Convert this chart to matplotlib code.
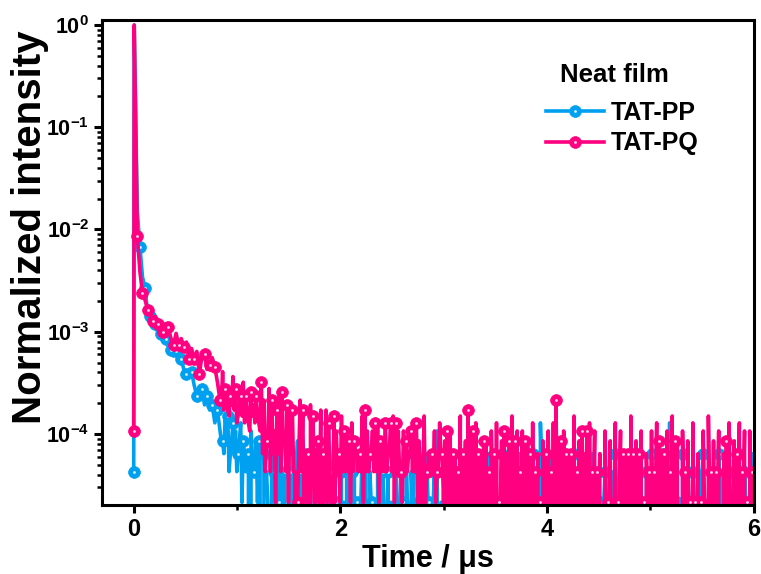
import matplotlib
matplotlib.use('Agg')
import matplotlib.pyplot as plt
import numpy as np
from matplotlib.ticker import LogLocator, MultipleLocator, NullFormatter, FuncFormatter

# photon counts (normalised by the peak count)
peak_counts = 46700
time_head = [0.0, 0.005]
pp_head = [2, 46700]
pq_head = [5, 46700]

# after the peak the channels are 0.025 us apart, starting at 0.035 us
t_start = 0.035
t_step = 0.025
# from channel 32 on (t > 0.8 us) there is one extra channel in between each pair
j_split = 32

pq_tail = [
    406, 180, 112, 95, 77, 70, 59, 66, 55, 50,
    46, 56, 52, 40, 35, 45, 35, 40, 33, 37,
    25, 32, 25, 30, 18, 27, 28, 20, 22, 26,
    21, 15, 10, 19, 13, 8, 11, 17, 13, 7,
    11, 15, 11, 6, 12, 9, 11, 6, 15, 10,
    4, 13, 10, 5, 8, 12, 12, 4, 9, 8,
    8, 2, 1, 10, 8, 3, 3, 9, 7, 1,
    4, 8, 3, 8, 6, 1, 7, 5, 3, 7,
    5, 4, 4, 6, 4, 3, 3, 7, 8, 5,
    3, 5, 6, 6, 4, 4, 6, 3, 6, 7,
    6, 5, 2, 5, 4, 3, 5, 6, 6, 4,
    0, 7, 2, 3, 3, 5, 2, 6, 3, 4,
    5, 5, 3, 3, 2, 7, 3, 4, 8, 5,
    5, 6, 3, 3, 4, 4, 2, 5, 3, 6,
    1, 4, 5, 3, 4, 7, 4, 5, 2, 5,
    4, 4, 3, 6, 2, 3, 1, 4, 3, 5,
    2, 6, 10, 4, 4, 5, 3, 3, 3, 7,
    2, 4, 5, 3, 5, 6, 2, 5, 2, 3,
    0, 5, 1, 4, 0, 6, 1, 5, 3, 3,
    3, 7, 3, 4, 3, 5, 1, 3, 2, 5,
    2, 6, 4, 3, 3, 5, 2, 7, 4, 4,
    0, 5, 2, 4, 1, 6, 1, 3, 1, 5,
    0, 7, 2, 4, 2, 5, 0, 3, 4, 6,
    0, 4, 3, 6, 2, 5, 1, 5, 2,
]
pq_between = [
    9, 8, 10, 7, 9, 8, 6, 9, 7, 6, 8, 5, 7, 6, 7, 5,
    3, 2, 4, 2, 3, 1, 3, 2, 4, 2, 1, 3, 2, 0, 3, 2,
    1, 2, 0, 2, 1, 3, 1, 0, 2, 1, 2, 0, 1, 2, 1, 2,
    2, 2, 1, 2, 3, 2, 2, 1, 2, 2,
    3, 2, 2, 1, 2, 2, 2, 3, 2, 1,
    2, 2, 1, 2, 2, 3, 2, 2, 1, 2,
    2, 1, 2, 2, 2, 1, 2, 3, 1, 1,
    0, 1, 0, 0, 1, 0, 1, 0, 0, 1,
    0, 0, 1, 0, 1, 0, 0, 1, 0, 0,
    1, 0, 0, 1, 0, 1, 0, 0, 1, 0,
    0, 1, 0, 0, 1, 0, 0, 1, 0, 1,
    0, 0, 1, 0, 0, 1, 0, 1, 0, 0,
    1, 0, 0, 1, 0, 0, 1, 0, 1, 0,
    0, 1, 0, 0, 1, 0, 1, 0, 0, 1,
    0, 0, 1, 0, 1, 0, 0, 1, 0, 0,
    1, 0, 1, 0, 0, 1, 0, 0, 1, 0,
    0, 1, 0, 1, 0, 0, 1, 0, 0, 1,
    0, 1, 0, 0, 1, 0, 0, 1, 0, 1,
    0, 0, 1, 0, 1, 0, 0, 1,
]

pp_tail = [
    700, 317, 160, 125, 72, 66, 52, 55, 45, 44,
    38, 40, 33, 31, 27, 30, 24, 25, 20, 18,
    17, 19, 14, 11, 12, 13, 9, 11, 8, 9,
    6, 8, 5, 4, 7, 7, 3, 6, 5, 3,
    6, 4, 2, 3, 5, 2, 4, 4, 0, 3,
    2, 0, 4, 2, 3, 1, 0, 2, 0, 2,
    3, 1, 4, 2, 0, 3, 1, 2, 0, 3,
    2, 1, 3, 0, 2, 2, 4, 1, 0, 2,
    1, 3, 0, 2, 4, 1, 0, 3, 2, 0,
    2, 1, 0, 3, 1, 2, 0, 2, 1, 0,
    3, 0, 2, 1, 4, 0, 2, 3, 0, 1,
    2, 0, 3, 1, 0, 2, 5, 0, 1, 2,
    0, 3, 1, 2, 0, 2, 1, 0, 2, 3,
    1, 0, 2, 2, 0, 1, 3, 0, 2, 1,
    0, 3, 2, 0, 1, 1, 2, 0, 3, 1,
    2, 0, 1, 3, 0, 2, 6, 1, 0, 2,
    3, 0, 1, 2, 0, 2, 1, 2, 0, 3,
    1, 0, 2, 1, 0, 1, 3, 0, 2, 1,
    0, 2, 1, 0, 2, 3, 1, 0, 2, 1,
    3, 0, 2, 1, 0, 1, 1, 2, 0, 3,
    1, 0, 2, 3, 0, 1, 6, 0, 2, 1,
    0, 3, 1, 2, 0, 2, 1, 0, 2, 3,
    1, 0, 2, 1, 0, 3, 2, 0, 1, 2,
    0, 2, 1, 3, 0, 2, 1, 0, 3,
]
pp_between = [
    4, 3, 5, 2, 4, 3, 2, 4, 1, 3, 2, 0, 3, 2, 1, 3,
    0, 2, 1, 0, 2, 1, 0, 3, 1, 0, 2, 0, 1, 2, 0, 1,
    0, 1, 2, 0, 1, 0, 2, 1, 0, 1, 0, 2, 1, 0, 1, 0,
    0, 1, 0, 1, 0, 0, 1, 0, 2, 0,
    1, 0, 0, 1, 0, 1, 0, 0, 1, 0,
    0, 1, 0, 0, 1, 0, 1, 0, 0, 1,
    0, 0, 1, 0, 1, 0, 0, 1, 0, 0,
    1, 0, 0, 1, 0, 2, 0, 1, 0, 0,
    1, 0, 1, 0, 0, 2, 0, 1, 0, 1,
    0, 0, 1, 0, 2, 0, 0, 1, 0, 1,
    0, 1, 0, 0, 1, 0, 2, 0, 1, 0,
    0, 1, 0, 1, 0, 0, 2, 0, 1, 0,
    1, 0, 0, 1, 0, 1, 0, 2, 0, 0,
    1, 0, 1, 0, 0, 1, 0, 2, 0, 1,
    0, 0, 1, 0, 1, 0, 0, 2, 0, 1,
    0, 1, 0, 0, 1, 0, 1, 0, 2, 0,
    0, 1, 0, 1, 0, 0, 1, 0, 2, 0,
    1, 0, 0, 1, 0, 1, 0, 0, 2, 0,
    1, 0, 1, 0, 0, 1, 0, 2,
]

series_names = ['TAT-PP', 'TAT-PQ']
legend_title = 'Neat film'
colors = ['#00A0F0', '#FF0080']

plt.rcParams['font.family'] = ['Liberation Sans', 'DejaVu Sans']
plt.rcParams['font.weight'] = 'bold'
plt.rcParams['mathtext.fontset'] = 'custom'
plt.rcParams['mathtext.bf'] = 'Liberation Sans:bold'
plt.rcParams['mathtext.rm'] = 'Liberation Sans:bold'


def build(head, tail, between):
    assert len(between) == len(tail) - 1 - j_split
    ts = list(time_head)
    vs = list(head)
    pos = []
    for j, v in enumerate(tail):
        tj = t_start + t_step * j
        pos.append(len(ts))
        ts.append(tj)
        vs.append(v)
        if j_split <= j < len(tail) - 1:
            ts.append(tj + t_step / 2)
            vs.append(between[j - j_split])
    return np.array(ts), np.array(vs) / peak_counts, pos


t_pp, pp, pos_pp = build(pp_head, pp_tail, pp_between)
t_pq, pq, pos_pq = build(pq_head, pq_tail, pq_between)

# markers on every other coarse channel, offset by one between the traces
pp_marks = [0] + pos_pp[1::2]
pq_marks = [0] + pos_pq[0::2]

fig = plt.figure(figsize=(7.61, 5.74), dpi=100)
ax = fig.add_axes([0.1336, 0.1202, 0.857, 0.845])
ax.set_yscale('log', nonpositive='clip')

handles = []
for t, y, marks, c, name in [(t_pp, pp, pp_marks, colors[0], series_names[0]),
                             (t_pq, pq, pq_marks, colors[1], series_names[1])]:
    line, = ax.plot(t, y, '-', color=c, lw=2.6, marker='o', ms=8.5,
                    markevery=marks, mfc=c, mec=c, mew=0.5, label=name)
    keep = [i for i in marks if y[i] > 0]
    dot, = ax.plot(t[keep], y[keep], 'o', ms=2.0, color='white', mew=0, alpha=0.85)
    handles.append((line, dot))

ax.set_xlim(-0.31, 6.0)
ax.set_ylim(2.02e-5, 1.12)

ax.xaxis.set_major_locator(MultipleLocator(2))
ax.xaxis.set_minor_locator(MultipleLocator(1))
ax.yaxis.set_major_locator(LogLocator(base=10, numticks=10))
ax.yaxis.set_minor_locator(LogLocator(base=10, subs=np.arange(2, 10), numticks=20))
ax.yaxis.set_minor_formatter(NullFormatter())
ax.yaxis.set_major_formatter(FuncFormatter(lambda v, p: r'$\mathbf{10^{%d}}$' % round(np.log10(v))))

for s in ax.spines.values():
    s.set_linewidth(2.2)
ax.tick_params(axis='both', which='major', direction='out', length=6, width=2.2,
               top=False, right=False)
ax.tick_params(axis='x', which='major', labelsize=17)
ax.tick_params(axis='y', which='major', labelsize=15.5, pad=3)
ax.tick_params(axis='both', which='minor', direction='out', length=3.5, width=1.8,
               top=False, right=False)
for lab in ax.get_xticklabels():
    lab.set_fontweight('bold')

ax.set_xlabel('Time / μs', fontsize=22, fontweight='bold', labelpad=2)
ax.set_ylabel('Normalized intensity', fontsize=29, fontweight='bold')
ax.yaxis.set_label_coords(-0.081, 0.573)

ax.text(0.787, 0.887, legend_title, transform=ax.transAxes, ha='center', va='center',
        fontsize=18.5, fontweight='bold')
leg = ax.legend(handles, series_names, loc='upper left',
                bbox_to_anchor=(0.647, 0.879), frameon=False, fontsize=18,
                handlelength=2.3, handletextpad=0.28, labelspacing=0.25,
                numpoints=1)
for txt in leg.get_texts():
    txt.set_fontweight('bold')

fig.savefig('out.png', dpi=100)
